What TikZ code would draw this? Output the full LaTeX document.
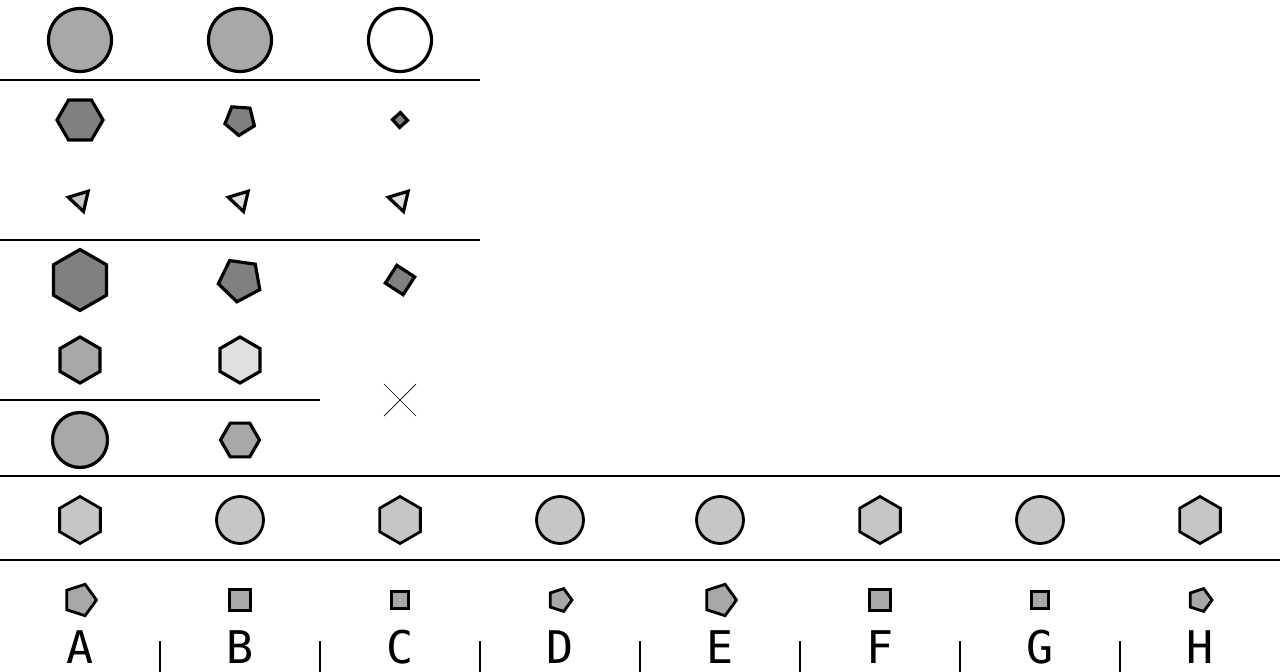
\documentclass[tikz,border=0pt]{standalone}
\usepackage{fontspec}
\usepackage{xcolor}
\usetikzlibrary{shapes.geometric}
\newfontfamily\lblfont{DejaVu Sans Mono}
\definecolor{gmid}{RGB}{168,168,168}
\definecolor{gdark}{RGB}{128,128,128}
\definecolor{glite}{RGB}{198,198,198}
\definecolor{gpale}{RGB}{224,224,224}

\begin{document}
\begin{tikzpicture}[x=1pt,y=-1pt,
    shp/.style={draw=black,line width=3.2pt,inner sep=0pt,outer sep=0pt},
    circ/.style={shp,circle,minimum size=#1},
    poly/.style={shp,regular polygon,regular polygon sides=#1},
    ans/.style={line width=2.8pt},
    rule/.style={line width=1.5pt},
    lbl/.style={font=\lblfont\fontsize{45}{45}\selectfont,anchor=base,inner sep=0pt}]
    \useasboundingbox (0,0) rectangle (1280,672);
    % problem grid
    \node[circ=63,fill=gmid]  (c1) at (80,40)  {};
    \node[circ=63,fill=gmid]  (c2) at (240,40) {};
    \node[circ=63,fill=white] (c3) at (400,40) {};
    \draw[rule] (0,80) -- (480,80);
    \node[poly=6,minimum size=46,fill=gdark]           (h1) at (80,120)  {};
    \node[poly=5,minimum size=31,rotate=32,fill=gdark] (p1) at (240,120) {};
    \node[poly=4,minimum size=15,rotate=42,fill=gdark] (q1) at (400,120) {};
    \node[poly=3,minimum size=24,rotate=77,fill=glite] (t1) at (80,200)  {};
    \node[poly=3,minimum size=24,rotate=77,fill=gpale] (t2) at (240,200) {};
    \node[poly=3,minimum size=24,rotate=77,fill=gpale] (t3) at (400,200) {};
    \draw[rule] (0,240) -- (480,240);
    \node[poly=6,minimum size=61,rotate=30,fill=gdark] (h2) at (80,280)  {};
    \node[poly=5,minimum size=44,rotate=28,fill=gdark] (p2) at (240,280) {};
    \node[poly=4,minimum size=30,rotate=-33,fill=gdark] (q2) at (400,280) {};
    \node[poly=6,minimum size=46,rotate=30,fill=gmid]  (h3) at (80,360)  {};
    \node[poly=6,minimum size=46,rotate=30,fill=gpale] (h4) at (240,360) {};
    \draw[rule] (0,400) -- (320,400);
    \draw[line width=0.7pt] (384,384) -- (416,416) (384,416) -- (416,384);
    \node[circ=55,fill=gmid]                (c4) at (80,440)  {};
    \node[poly=6,minimum size=39,fill=gmid] (h5) at (240,440) {};
    \draw[line width=2.5pt] (0,476) -- (1280,476);
    % answer choices
    \node[poly=6,ans,minimum size=47,rotate=30,fill=glite] (ah) at (80,520)   {};
    \node[circ=47,ans,fill=glite]                          (bc) at (240,520)  {};
    \node[poly=6,ans,minimum size=47,rotate=30,fill=glite] (ch) at (400,520)  {};
    \node[circ=47,ans,fill=glite]                          (dc) at (560,520)  {};
    \node[circ=47,ans,fill=glite]                          (ec) at (720,520)  {};
    \node[poly=6,ans,minimum size=47,rotate=30,fill=glite] (fh) at (880,520)  {};
    \node[circ=47,ans,fill=glite]                          (gc) at (1040,520) {};
    \node[poly=6,ans,minimum size=47,rotate=30,fill=glite] (hh) at (1200,520) {};
    \draw[rule] (0,560) -- (1280,560);
    \node[poly=5,ans,minimum size=33,rotate=-90,fill=gmid] (ap) at (80,600)   {};
    \node[poly=4,ans,minimum size=30,fill=gmid]            (bq) at (240,600)  {};
    \node[poly=4,ans,minimum size=23,fill=gmid]            (cq) at (400,600)  {};
    \node[poly=5,ans,minimum size=24,rotate=-90,fill=gmid] (dp) at (560,600)  {};
    \node[poly=5,ans,minimum size=33,rotate=-90,fill=gmid] (ep) at (720,600)  {};
    \node[poly=4,ans,minimum size=30,fill=gmid]            (fq) at (880,600)  {};
    \node[poly=4,ans,minimum size=23,fill=gmid]            (gq) at (1040,600) {};
    \node[poly=5,ans,minimum size=24,rotate=-90,fill=gmid] (hp) at (1200,600) {};
    \node[lbl] (la) at (80,663)   {A};
    \node[lbl] (lb) at (240,663)  {B};
    \node[lbl] (lc) at (400,663)  {C};
    \node[lbl] (ld) at (560,663)  {D};
    \node[lbl] (le) at (720,663)  {E};
    \node[lbl] (lf) at (880,663)  {F};
    \node[lbl] (lg) at (1040,663) {G};
    \node[lbl] (lh) at (1200,663) {H};
    \draw[rule] (160,641) -- (160,672) (320,641) -- (320,672)
                (480,641) -- (480,672) (640,641) -- (640,672)
                (800,641) -- (800,672) (960,641) -- (960,672)
                (1120,641) -- (1120,672);
  \end{tikzpicture}
\end{document}
